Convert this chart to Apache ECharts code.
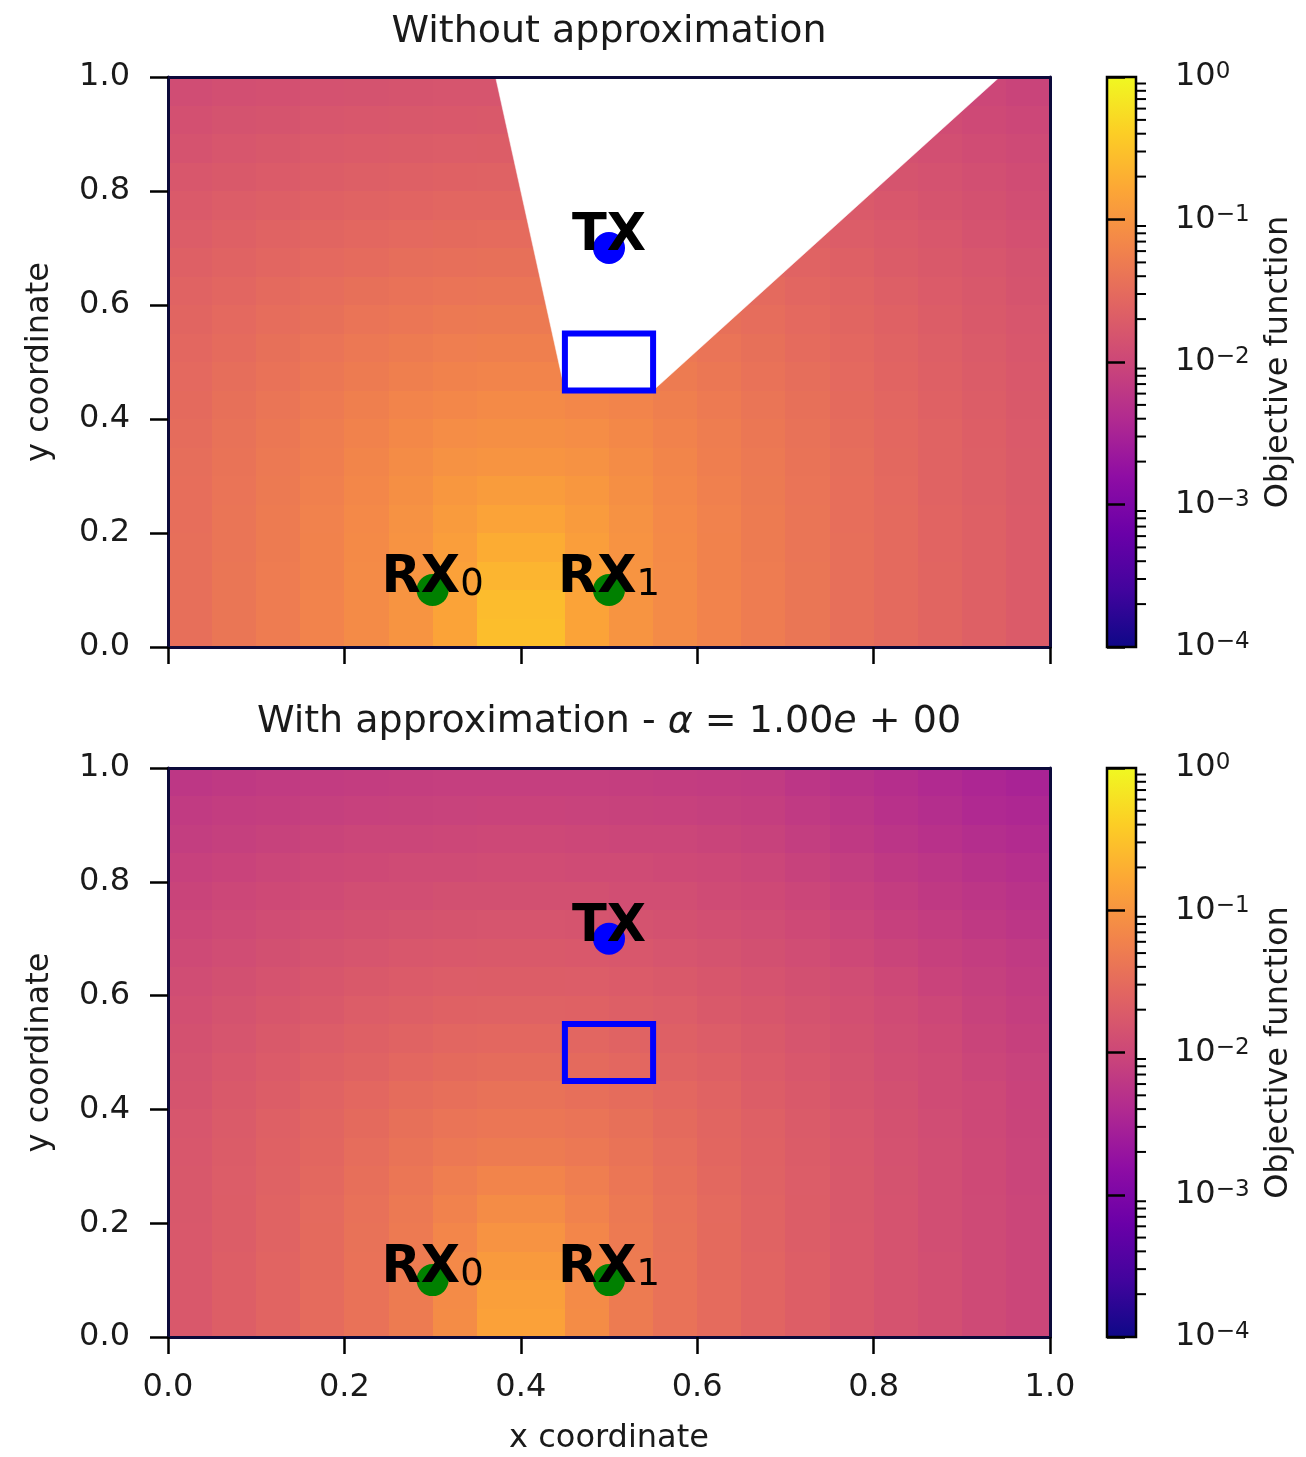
<!DOCTYPE html>
<html>
<head>
<meta charset="utf-8">
<script src="https://cdn.jsdelivr.net/npm/echarts@6/dist/echarts.min.js"></script>
<style>html,body{margin:0;padding:0;background:#fff;}#chart{width:1306px;height:1457px;}</style>
</head>
<body>
<div id="chart"></div>
<script>
// ---------------- data ----------------
const xCenters = [0.025,0.075,0.125,0.175,0.225,0.275,0.325,0.375,0.425,0.475,0.525,0.575,0.625,0.675,0.725,0.775,0.825,0.875,0.925,0.975];
// rows listed from top (y=0.975) to bottom (y=0.025)
const yCentersTopDown = [0.975,0.925,0.875,0.825,0.775,0.725,0.675,0.625,0.575,0.525,0.475,0.425,0.375,0.325,0.275,0.225,0.175,0.125,0.075,0.025];
const cellSize = 0.05;

// log10(objective function), panel "Without approximation" (null = no value / shadow region)
const objWithout = [
 [-1.92,-1.89,-1.87,-1.85,-1.84,-1.82,-1.81,-1.81,null,null,null,null,null,null,null,null,null,null,-2.00,-2.04],
 [-1.87,-1.84,-1.82,-1.80,-1.78,-1.77,-1.76,-1.75,null,null,null,null,null,null,null,null,null,-1.93,-1.97,-2.00],
 [-1.83,-1.80,-1.77,-1.74,-1.72,-1.71,-1.70,-1.69,null,null,null,null,null,null,null,null,-1.86,-1.89,-1.93,-1.96],
 [-1.78,-1.75,-1.72,-1.69,-1.67,-1.65,-1.64,-1.63,null,null,null,null,null,null,null,null,-1.82,-1.85,-1.89,-1.93],
 [-1.74,-1.70,-1.67,-1.64,-1.61,-1.60,-1.58,-1.58,-1.58,null,null,null,null,null,null,-1.74,-1.78,-1.82,-1.86,-1.90],
 [-1.70,-1.66,-1.62,-1.59,-1.56,-1.54,-1.52,-1.51,-1.51,null,null,null,null,null,-1.66,-1.70,-1.74,-1.78,-1.83,-1.87],
 [-1.66,-1.62,-1.58,-1.54,-1.51,-1.48,-1.46,-1.45,-1.45,null,null,null,null,-1.58,-1.62,-1.66,-1.71,-1.75,-1.80,-1.84],
 [-1.62,-1.58,-1.53,-1.49,-1.45,-1.42,-1.40,-1.39,-1.39,null,null,null,null,-1.53,-1.58,-1.62,-1.67,-1.72,-1.77,-1.82],
 [-1.59,-1.54,-1.49,-1.45,-1.40,-1.37,-1.34,-1.33,-1.33,null,null,null,-1.45,-1.49,-1.54,-1.59,-1.64,-1.69,-1.75,-1.80],
 [-1.56,-1.51,-1.45,-1.40,-1.35,-1.31,-1.28,-1.26,-1.26,null,null,-1.35,-1.40,-1.45,-1.51,-1.56,-1.62,-1.67,-1.73,-1.78],
 [-1.54,-1.48,-1.42,-1.36,-1.31,-1.26,-1.22,-1.20,-1.20,null,null,-1.31,-1.36,-1.42,-1.48,-1.54,-1.60,-1.65,-1.71,-1.76],
 [-1.52,-1.45,-1.39,-1.32,-1.26,-1.20,-1.16,-1.13,-1.13,-1.16,-1.20,-1.26,-1.32,-1.39,-1.45,-1.52,-1.58,-1.64,-1.69,-1.75],
 [-1.50,-1.43,-1.36,-1.29,-1.22,-1.15,-1.10,-1.07,-1.07,-1.10,-1.15,-1.22,-1.29,-1.36,-1.43,-1.50,-1.56,-1.62,-1.68,-1.74],
 [-1.48,-1.41,-1.34,-1.27,-1.19,-1.11,-1.04,-1.01,-1.01,-1.04,-1.11,-1.19,-1.27,-1.34,-1.41,-1.48,-1.55,-1.61,-1.67,-1.73],
 [-1.47,-1.40,-1.33,-1.25,-1.16,-1.07,-0.98,-0.92,-0.92,-0.98,-1.07,-1.16,-1.25,-1.33,-1.40,-1.47,-1.54,-1.61,-1.67,-1.73],
 [-1.47,-1.39,-1.31,-1.23,-1.14,-1.04,-0.93,-0.83,-0.83,-0.93,-1.04,-1.14,-1.23,-1.31,-1.39,-1.47,-1.53,-1.60,-1.66,-1.72],
 [-1.46,-1.39,-1.31,-1.22,-1.13,-1.02,-0.89,-0.74,-0.74,-0.89,-1.02,-1.13,-1.22,-1.31,-1.39,-1.46,-1.53,-1.60,-1.66,-1.72],
 [-1.46,-1.38,-1.30,-1.22,-1.12,-1.01,-0.86,-0.65,-0.65,-0.86,-1.01,-1.12,-1.22,-1.30,-1.38,-1.46,-1.53,-1.59,-1.66,-1.72],
 [-1.46,-1.38,-1.30,-1.21,-1.12,-1.01,-0.84,-0.58,-0.58,-0.84,-1.01,-1.12,-1.21,-1.30,-1.38,-1.46,-1.53,-1.59,-1.66,-1.72],
 [-1.46,-1.38,-1.30,-1.21,-1.12,-1.01,-0.83,-0.56,-0.56,-0.83,-1.01,-1.12,-1.21,-1.30,-1.38,-1.46,-1.53,-1.59,-1.66,-1.72]
];

// log10(objective function), panel "With approximation"
const objWith = [
 [-2.22,-2.19,-2.17,-2.15,-2.14,-2.12,-2.11,-2.11,-2.11,-2.11,-2.12,-2.14,-2.15,-2.17,-2.23,-2.29,-2.34,-2.40,-2.45,-2.49],
 [-2.17,-2.14,-2.12,-2.10,-2.08,-2.07,-2.06,-2.05,-2.05,-2.06,-2.07,-2.08,-2.10,-2.12,-2.18,-2.24,-2.30,-2.35,-2.41,-2.44],
 [-2.13,-2.10,-2.07,-2.04,-2.02,-2.01,-2.00,-1.99,-1.99,-2.00,-2.01,-2.02,-2.04,-2.07,-2.13,-2.19,-2.25,-2.30,-2.35,-2.38],
 [-2.08,-2.05,-2.02,-1.99,-1.97,-1.95,-1.94,-1.93,-1.93,-1.94,-1.95,-1.97,-1.99,-2.02,-2.07,-2.13,-2.19,-2.24,-2.29,-2.33],
 [-2.04,-2.00,-1.97,-1.94,-1.91,-1.90,-1.88,-1.88,-1.88,-1.88,-1.90,-1.91,-1.94,-1.97,-2.02,-2.08,-2.14,-2.19,-2.24,-2.28],
 [-2.00,-1.96,-1.92,-1.89,-1.86,-1.84,-1.82,-1.81,-1.81,-1.82,-1.84,-1.86,-1.89,-1.92,-1.97,-2.03,-2.09,-2.14,-2.19,-2.23],
 [-1.96,-1.92,-1.88,-1.84,-1.81,-1.78,-1.76,-1.75,-1.75,-1.76,-1.78,-1.81,-1.84,-1.88,-1.92,-1.98,-2.04,-2.09,-2.14,-2.18],
 [-1.92,-1.88,-1.83,-1.79,-1.75,-1.72,-1.70,-1.69,-1.69,-1.70,-1.72,-1.75,-1.79,-1.83,-1.88,-1.92,-1.99,-2.05,-2.10,-2.15],
 [-1.89,-1.84,-1.79,-1.75,-1.70,-1.67,-1.64,-1.63,-1.63,-1.64,-1.67,-1.70,-1.75,-1.79,-1.84,-1.89,-1.94,-2.00,-2.07,-2.12],
 [-1.86,-1.81,-1.75,-1.70,-1.65,-1.61,-1.58,-1.56,-1.56,-1.58,-1.61,-1.65,-1.70,-1.75,-1.81,-1.86,-1.92,-1.97,-2.04,-2.09],
 [-1.84,-1.78,-1.72,-1.66,-1.61,-1.56,-1.52,-1.50,-1.50,-1.52,-1.56,-1.61,-1.66,-1.72,-1.78,-1.84,-1.90,-1.95,-2.01,-2.06],
 [-1.82,-1.75,-1.69,-1.62,-1.56,-1.50,-1.46,-1.43,-1.43,-1.46,-1.50,-1.56,-1.62,-1.69,-1.75,-1.82,-1.88,-1.94,-1.99,-2.05],
 [-1.80,-1.73,-1.66,-1.59,-1.52,-1.45,-1.40,-1.37,-1.37,-1.40,-1.45,-1.52,-1.59,-1.66,-1.73,-1.80,-1.86,-1.92,-1.98,-2.04],
 [-1.78,-1.71,-1.64,-1.57,-1.49,-1.41,-1.35,-1.31,-1.31,-1.35,-1.41,-1.49,-1.57,-1.64,-1.71,-1.78,-1.85,-1.91,-1.97,-2.03],
 [-1.77,-1.70,-1.63,-1.55,-1.46,-1.37,-1.28,-1.20,-1.20,-1.28,-1.37,-1.46,-1.55,-1.63,-1.70,-1.77,-1.84,-1.91,-1.97,-2.03],
 [-1.77,-1.69,-1.61,-1.53,-1.44,-1.34,-1.23,-1.11,-1.11,-1.23,-1.34,-1.44,-1.53,-1.61,-1.69,-1.77,-1.83,-1.90,-1.96,-2.02],
 [-1.76,-1.69,-1.61,-1.52,-1.43,-1.32,-1.18,-1.02,-1.02,-1.18,-1.32,-1.43,-1.52,-1.61,-1.69,-1.76,-1.83,-1.90,-1.96,-2.02],
 [-1.76,-1.68,-1.60,-1.52,-1.42,-1.31,-1.14,-0.94,-0.94,-1.14,-1.31,-1.42,-1.52,-1.60,-1.68,-1.76,-1.83,-1.89,-1.96,-2.02],
 [-1.76,-1.68,-1.60,-1.51,-1.42,-1.31,-1.12,-0.88,-0.88,-1.12,-1.31,-1.42,-1.51,-1.60,-1.68,-1.76,-1.83,-1.89,-1.96,-2.02],
 [-1.76,-1.68,-1.60,-1.51,-1.42,-1.31,-1.11,-0.86,-0.86,-1.11,-1.31,-1.42,-1.51,-1.60,-1.68,-1.76,-1.83,-1.89,-1.96,-2.02]
];

const txPos = [[0.5, 0.7]];
const rxPos = [[0.3, 0.1], [0.5, 0.1]];
const obstacle = [[0.45, 0.45, 0.55, 0.55]];           // x0, y0, x1, y1
const shadowPolygon = [[0.3714, 1.0], [0.45, 0.45], [0.55, 0.45], [0.9429, 1.0]];
const colorbarRange = [1e-4, 1];
const colorbarMinorTicks = [
 2e-4,3e-4,4e-4,5e-4,6e-4,7e-4,8e-4,9e-4,
 2e-3,3e-3,4e-3,5e-3,6e-3,7e-3,8e-3,9e-3,
 2e-2,3e-2,4e-2,5e-2,6e-2,7e-2,8e-2,9e-2,
 2e-1,3e-1,4e-1,5e-1,6e-1,7e-1,8e-1,9e-1
];
const plasma = ['#0d0887','#41049d','#6a00a8','#8f0da4','#b12a90','#cc4778','#e16462','#f2844b','#fca636','#fcce25','#f0f921'];

// ---------------- chart ----------------
const FONT = 'DejaVu Sans';
const TXT = '#1a1a1a';
const SPINE = '#0c0a3a';

function heatData(grid) {
  const out = [];
  grid.forEach((row, i) => row.forEach((v, j) => {
    if (v !== null) out.push([xCenters[j], yCentersTopDown[i], v]);
  }));
  return out;
}
function renderCell(params, api) {
  const x = api.value(0), y = api.value(1), h = cellSize / 2;
  const p0 = api.coord([x - h, y + h]);
  const p1 = api.coord([x + h, y - h]);
  const x0 = Math.round(p0[0]), y0 = Math.round(p0[1]), x1 = Math.round(p1[0]), y1 = Math.round(p1[1]);
  return { type: 'rect', shape: { x: x0, y: y0, width: x1 - x0, height: y1 - y0 },
           style: { fill: api.visual('color') } };
}
function renderWedge(params, api) {
  if (params.dataIndex !== 0) return null;
  const pts = shadowPolygon.map(p => api.coord(p));
  return { type: 'polygon', shape: { points: pts }, style: { fill: '#ffffff', stroke: '#ffffff', lineWidth: 0.5 } };
}
function renderObstacle(fill) {
  return function (params, api) {
    const p0 = api.coord([api.value(0), api.value(3)]);
    const p1 = api.coord([api.value(2), api.value(1)]);
    return { type: 'rect', shape: { x: p0[0], y: p0[1], width: p1[0] - p0[0], height: p1[1] - p0[1] },
             style: { fill: fill, stroke: '#0000ff', lineWidth: 6 } };
  };
}
function renderColorbar(params, api) {
  const p0 = api.coord([api.value(0), api.value(3)]);
  const p1 = api.coord([api.value(2), api.value(1)]);
  const grad = new echarts.graphic.LinearGradient(0, 1, 0, 0,
    plasma.map((c, i) => ({ offset: i / (plasma.length - 1), color: c })));
  return { type: 'rect', shape: { x: p0[0], y: p0[1], width: p1[0] - p0[0], height: p1[1] - p0[1] },
           style: { fill: grad, stroke: '#000', lineWidth: 2.5 } };
}
function renderMinorTick(params, api) {
  const p = api.coord([api.value(0), api.value(1)]);
  return { type: 'line', shape: { x1: p[0], y1: p[1], x2: p[0] + 10, y2: p[1] }, style: { stroke: '#000', lineWidth: 2 } };
}

function mainX(gridIndex, showLabels, name) {
  return { type: 'value', gridIndex, min: 0, max: 1, interval: 0.2, position: 'bottom', z: 10,
    axisLine: { show: true, onZero: false, lineStyle: { color: SPINE, width: 3 } },
    axisTick: { show: true, length: 17, lineStyle: { color: '#000', width: 2.5 } },
    axisLabel: { show: showLabels, fontSize: 32, color: TXT, fontFamily: FONT, margin: 35, showMinLabel: true, showMaxLabel: true,
                 formatter: v => v.toFixed(1) },
    splitLine: { show: false },
    name: name || '', nameLocation: 'middle', nameGap: 86,
    nameTextStyle: { fontSize: 32, color: TXT, fontFamily: FONT } };
}
function frameX(gridIndex) {
  return { type: 'value', gridIndex, min: 0, max: 1, position: 'top', z: 10,
    axisLine: { show: true, onZero: false, lineStyle: { color: SPINE, width: 3 } },
    axisTick: { show: false }, axisLabel: { show: false }, splitLine: { show: false } };
}
function mainY(gridIndex) {
  return { type: 'value', gridIndex, min: 0, max: 1, interval: 0.2, position: 'left', z: 10,
    axisLine: { show: true, onZero: false, lineStyle: { color: SPINE, width: 3 } },
    axisTick: { show: true, length: 18, lineStyle: { color: '#000', width: 2.5 } },
    axisLabel: { fontSize: 32, color: TXT, fontFamily: FONT, margin: 38, showMinLabel: true, showMaxLabel: true,
                 formatter: v => v.toFixed(1) },
    splitLine: { show: false },
    name: 'y coordinate', nameLocation: 'middle', nameRotate: 90, nameGap: 112,
    nameTextStyle: { fontSize: 32, color: TXT, fontFamily: FONT } };
}
function frameY(gridIndex) {
  return { type: 'value', gridIndex, min: 0, max: 1, position: 'right', z: 10,
    axisLine: { show: true, onZero: false, lineStyle: { color: SPINE, width: 3 } },
    axisTick: { show: false }, axisLabel: { show: false }, splitLine: { show: false } };
}
function cbarX(gridIndex) {
  return { type: 'value', gridIndex, min: 0, max: 1, show: false };
}
function cbarY(gridIndex) {
  return { type: 'log', logBase: 10, gridIndex, min: colorbarRange[0], max: colorbarRange[1], position: 'right', z: 10,
    axisLine: { show: false },
    axisTick: { show: true, length: 18, lineStyle: { color: '#000', width: 2.5 } },
    axisLabel: { margin: 39, color: TXT, showMinLabel: true, showMaxLabel: true,
      formatter: v => { const e = Math.round(Math.log10(v)); return '{b|10}{s|' + (e < 0 ? '\u2212' + (-e) : e) + '}'; },
      rich: { b: { fontSize: 32, fontFamily: FONT, color: TXT, lineHeight: 32 },
              s: { fontSize: 23, fontFamily: FONT, color: TXT, lineHeight: 8, verticalAlign: 'top' } } },
    splitLine: { show: false },
    name: 'Objective function', nameLocation: 'middle', nameRotate: 90, nameGap: 127,
    nameTextStyle: { fontSize: 32, color: TXT, fontFamily: FONT } };
}

const labelRich = {
  b: { fontFamily: FONT, fontWeight: 'bold', fontSize: 51, lineHeight: 50, color: '#000' },
  s: { fontFamily: FONT, fontSize: 37, lineHeight: 26, verticalAlign: 'bottom', color: '#000' }
};
function txSeries(xi, yi) {
  return { type: 'scatter', xAxisIndex: xi, yAxisIndex: yi, z: 6, symbol: 'circle', symbolSize: 32,
    itemStyle: { color: '#0000ff', opacity: 1 }, silent: true,
    data: txPos.map(p => ({ value: p, name: 'TX' })),
    label: { show: true, position: 'inside', offset: [0, -11], color: '#000', formatter: '{b|TX}', rich: labelRich } };
}
function rxSeries(xi, yi) {
  return { type: 'scatter', xAxisIndex: xi, yAxisIndex: yi, z: 6, symbol: 'circle', symbolSize: 32,
    itemStyle: { color: '#008000', opacity: 1 }, silent: true,
    data: rxPos.map((p, i) => ({ value: p, name: 'RX' + i })),
    label: { show: true, position: 'inside', offset: [0, -11], color: '#000',
      formatter: p => '{b|RX}{s|' + p.dataIndex + '}', rich: labelRich } };
}

const option = {
  animation: false,
  backgroundColor: '#ffffff',
  textStyle: { fontFamily: FONT },
  title: [
    { text: 'Without approximation', left: 609, top: 13, textAlign: 'center', padding: 0,
      textStyle: { fontSize: 38, fontWeight: 'normal', color: TXT, fontFamily: FONT } },
    { text: '{n|With approximation - }{i|\u03b1}{n| = 1.00}{i|e}{n| + 00}', left: 609, top: 703, textAlign: 'center', padding: 0,
      textStyle: { fontSize: 38, fontWeight: 'normal', color: TXT, fontFamily: FONT,
        rich: { n: { fontSize: 38, color: TXT, fontFamily: FONT }, i: { fontSize: 38, color: TXT, fontFamily: FONT, fontStyle: 'italic' } } } }
  ],
  grid: [
    { left: 168, top: 77, width: 882, height: 570 },
    { left: 1107, top: 77, width: 29, height: 570 },
    { left: 168, top: 768, width: 882, height: 569 },
    { left: 1107, top: 768, width: 29, height: 569 }
  ],
  xAxis: [ mainX(0, false), frameX(0), cbarX(1), mainX(2, true, 'x coordinate'), frameX(2), cbarX(3) ],
  yAxis: [ mainY(0), frameY(0), cbarY(1), mainY(2), frameY(2), cbarY(3) ],
  visualMap: { type: 'continuous', show: false, min: -4, max: 0, dimension: 2, seriesIndex: [0, 1], inRange: { color: plasma } },
  series: [
    { type: 'custom', xAxisIndex: 0, yAxisIndex: 0, z: 1, silent: true, renderItem: renderCell, encode: { x: 0, y: 1 }, data: heatData(objWithout) },
    { type: 'custom', xAxisIndex: 3, yAxisIndex: 3, z: 1, silent: true, renderItem: renderCell, encode: { x: 0, y: 1 }, data: heatData(objWith) },
    { type: 'custom', xAxisIndex: 0, yAxisIndex: 0, z: 2, silent: true, renderItem: renderWedge, encode: { x: 0, y: 1 }, data: shadowPolygon },
    { type: 'custom', xAxisIndex: 0, yAxisIndex: 0, z: 3, silent: true, renderItem: renderObstacle('#ffffff'), encode: { x: [0, 2], y: [1, 3] }, data: obstacle },
    { type: 'custom', xAxisIndex: 3, yAxisIndex: 3, z: 3, silent: true, renderItem: renderObstacle('rgba(0,0,0,0)'), encode: { x: [0, 2], y: [1, 3] }, data: obstacle },
    txSeries(0, 0), rxSeries(0, 0), txSeries(3, 3), rxSeries(3, 3),
    { type: 'custom', xAxisIndex: 2, yAxisIndex: 2, z: 2, silent: true, renderItem: renderColorbar, encode: { x: [0, 2], y: [1, 3] },
      data: [[0, colorbarRange[0], 1, colorbarRange[1]]] },
    { type: 'custom', xAxisIndex: 5, yAxisIndex: 5, z: 2, silent: true, renderItem: renderColorbar, encode: { x: [0, 2], y: [1, 3] },
      data: [[0, colorbarRange[0], 1, colorbarRange[1]]] },
    { type: 'custom', xAxisIndex: 2, yAxisIndex: 2, z: 3, silent: true, renderItem: renderMinorTick, encode: { x: 0, y: 1 },
      data: colorbarMinorTicks.map(v => [1, v]) },
    { type: 'custom', xAxisIndex: 5, yAxisIndex: 5, z: 3, silent: true, renderItem: renderMinorTick, encode: { x: 0, y: 1 },
      data: colorbarMinorTicks.map(v => [1, v]) }
  ]
};

const chart = echarts.init(document.getElementById('chart'), null, { renderer: 'canvas' });
chart.setOption(option);
</script>
</body>
</html>
